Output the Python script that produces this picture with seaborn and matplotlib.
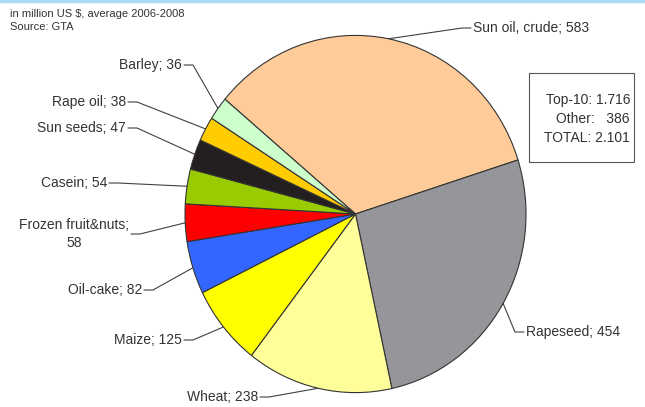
import numpy as np
import seaborn as sns
import matplotlib.pyplot as plt
from matplotlib.patches import Rectangle

# Data (million US $, average 2006-2008)
products = ['Sun oil, crude', 'Rapeseed', 'Wheat', 'Maize', 'Oil-cake',
            'Frozen fruit&nuts;\n', 'Casein', 'Sun seeds', 'Rape oil', 'Barley']
values = [583, 454, 238, 125, 82, 58, 54, 47, 38, 36]
colors = ['#FFCC99', '#96969A', '#FFFF99', '#FFFF00', '#3366FF',
          '#FF0000', '#99CC00', '#231F20', '#FFCC00', '#CCFFCC']
summary_lines = ['Top-10: 1.716', 'Other:   386', 'TOTAL: 2.101']
note_lines = ['in million US $, average 2006-2008', 'Source: GTA']

sns.set_theme(style='white')
plt.rcParams['font.family'] = ['Liberation Sans', 'DejaVu Sans']

W, H = 645, 407
fig = plt.figure(figsize=(W / 100, H / 100), dpi=100)
fig.patch.set_facecolor('white')

# overlay axes in pixel coordinates for labels, leader lines and box
ax = fig.add_axes([0, 0, 1, 1])
ax.set_xlim(0, W)
ax.set_ylim(H, 0)
ax.axis('off')

# pie geometry (pixels) - slightly elliptical like the original
cx, cy, rx, ry = 355.5, 214, 170.5, 178.6
pax = fig.add_axes([(cx - rx) / W, (H - cy - ry) / H, 2 * rx / W, 2 * ry / H])
wedges, _ = pax.pie(values, colors=colors, startangle=140, counterclock=False,
                    radius=1, wedgeprops=dict(edgecolor='#333333', linewidth=0.8))
pax.set_aspect('auto')
pax.set_xlim(-1, 1)
pax.set_ylim(-1, 1)
pax.axis('off')

# label elbow points and side (+1 text right of elbow, -1 text left)
elbows = [(462, 28, 1), (515, 332, 1), (269, 397, -1), (193, 340, -1), (153, 290, -1),
          (140, 234, -1), (118, 183, -1), (137, 128, -1), (137, 102, -1), (193, 65, -1)]

lc = '#404040'
tc = '#333333'
for w, name, val, (ex, ey, side) in zip(wedges, products, values, elbows):
    mid = np.deg2rad((w.theta1 + w.theta2) / 2)
    px = cx + rx * np.cos(mid)
    py = cy - ry * np.sin(mid)
    hx = ex + side * 9
    ax.plot([px, ex, hx], [py, ey, ey], color=lc, lw=0.8)
    if name.endswith('\n'):
        label = f'{name}{val}'
    else:
        label = f'{name}; {val}'
    ax.text(hx + side * 2, ey, label, ha='left' if side > 0 else 'right',
            va='center', fontsize=10, color=tc, multialignment='center',
            linespacing=1.35)

# summary box
ax.add_patch(Rectangle((529, 73), 105, 89, fill=False, edgecolor='#555555', lw=0.8))
for i, line in enumerate(summary_lines):
    ax.text(630, 100 + i * 19, line, ha='right', va='center', fontsize=10, color=tc)

# note top-left
for i, line in enumerate(note_lines):
    ax.text(10, 14 + i * 13, line, ha='left', va='center', fontsize=8, color=tc)

# thin light-blue rule along the top
ax.axhline(1, color='#A6DCEF', lw=2.5)

fig.savefig('out.png', dpi=100)
